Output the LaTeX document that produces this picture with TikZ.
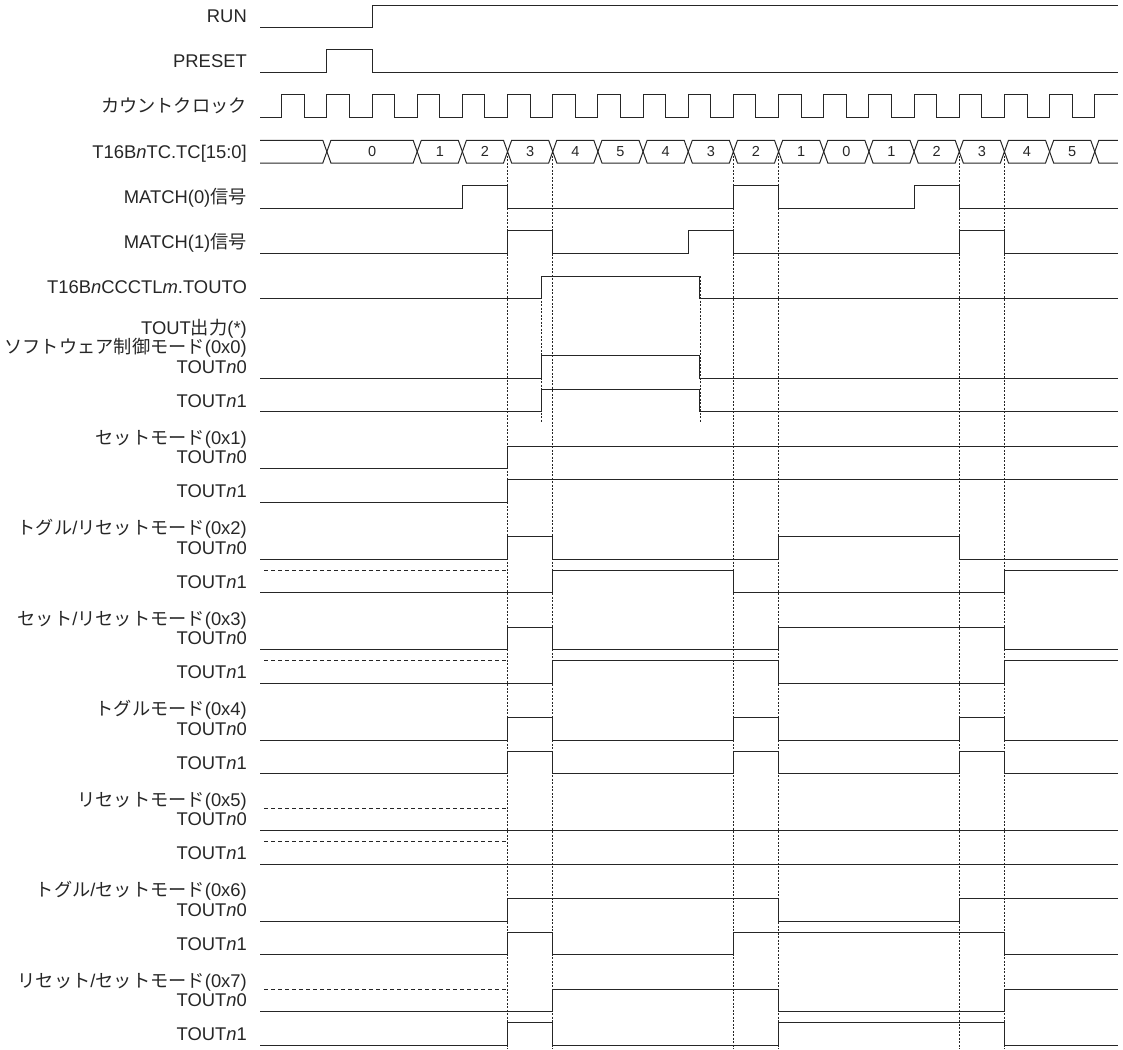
\documentclass[tikz,border=0pt]{standalone}
\usepackage{fontspec}
\setmainfont{Liberation Sans}
\newfontfamily\jp{Noto Sans CJK JP}[Scale=0.99]
\definecolor{ink}{HTML}{262626}
\newcommand\wlow[2]{\draw[sig] (-0.48,#1) \foreach \p/\q in {#2}{ -- (\p,#1) -- (\p,#1-22.5) -- (\q,#1-22.5) -- (\q,#1)} -- (18.51,#1);}
\newcommand\whigh[3]{\draw[sig] (-0.48,#1) \foreach \p/\q in {#2}{ -- (\p,#1) -- (\p,#1-22.5) -- (\q,#1-22.5) -- (\q,#1)} -- (#3,#1) -- (#3,#1-22.5) -- (18.51,#1-22.5);}
\newcommand\lab[3]{\node[lbl] (#1) at (247,#2) {#3};}
\begin{document}
\begin{tikzpicture}[x=1pt,y=-1pt,
  sig/.style={draw=ink,line width=1pt,line join=miter},
  gridline/.style={draw=ink,line width=0.7pt,dash pattern=on 2pt off 1.5pt},
  prevline/.style={draw=ink,line width=0.9pt,dash pattern=on 4pt off 3pt},
  lbl/.style={anchor=base east,inner sep=0pt,text=ink,font=\fontsize{18.4}{19.5}\selectfont},
  busval/.style={inner sep=0pt,text=ink,font=\fontsize{14.5}{16}\selectfont}]
\useasboundingbox (0,0) rectangle (1123,1049);

% ---- labels ----
\lab{lrun}{22.9}{RUN}
\lab{lpreset}{67.2}{PRESET}
\lab{lclk}{112.5}{{\jp カウントクロック}}
\lab{ltc}{158.2}{T16B\textit{n}TC.TC[15:0]}
\lab{lm0}{203.2}{MATCH(0){\jp 信号}}
\lab{lm1}{248.5}{MATCH(1){\jp 信号}}
\lab{ltouto}{293.9}{T16B\textit{n}CCCTL\textit{m}.TOUTO}

\lab{ltout}{334.25}{TOUT{\jp 出力}(*)}
\lab{hsw}{353.75}{{\jp ソフトウェア制御モード}(0x0)}
\lab{sw0}{373.25}{TOUT\textit{n}0}
\lab{sw1}{407.05}{TOUT\textit{n}1}

\lab{hset}{444.25}{{\jp セットモード}(0x1)}
\lab{set0}{463.75}{TOUT\textit{n}0}
\lab{set1}{497.55}{TOUT\textit{n}1}

\lab{htr}{534.75}{{\jp トグル}/{\jp リセットモード}(0x2)}
\lab{tr0}{554.25}{TOUT\textit{n}0}
\lab{tr1}{588.05}{TOUT\textit{n}1}

\lab{hsr}{625.25}{{\jp セット}/{\jp リセットモード}(0x3)}
\lab{sr0}{644.75}{TOUT\textit{n}0}
\lab{sr1}{678.55}{TOUT\textit{n}1}

\lab{htg}{715.75}{{\jp トグルモード}(0x4)}
\lab{tg0}{735.25}{TOUT\textit{n}0}
\lab{tg1}{769.05}{TOUT\textit{n}1}

\lab{hrs}{806.25}{{\jp リセットモード}(0x5)}
\lab{rs0}{825.75}{TOUT\textit{n}0}
\lab{rs1}{859.55}{TOUT\textit{n}1}

\lab{hts}{896.75}{{\jp トグル}/{\jp セットモード}(0x6)}
\lab{ts0}{916.25}{TOUT\textit{n}0}
\lab{ts1}{950.05}{TOUT\textit{n}1}

\lab{hrss}{987.25}{{\jp リセット}/{\jp セットモード}(0x7)}
\lab{rss0}{1006.75}{TOUT\textit{n}0}
\lab{rss1}{1040.55}{TOUT\textit{n}1}

% ---- waveforms ----
\begin{scope}[x=45.17pt,xshift=281.7pt]
  % grid lines
  \foreach \k in {5,6,10,11,15,16} \draw[gridline] (\k,152) -- (\k,1049);
  \draw[gridline] (5.755,276.2) -- (5.755,423);
  \draw[gridline] (9.26,276.2) -- (9.26,423);

  % RUN / PRESET
  \draw[sig] (-0.48,27.7) -- (2,27.7) -- (2,5.2) -- (18.51,5.2);
  \wlow{72}{1/2}
  % clock
  \draw[sig] (-0.48,117.3) \foreach \k in {0,...,17}{ -- (\k,117.3) -- (\k,94.8) -- (\k+0.5,94.8) -- (\k+0.5,117.3)} -- (18,117.3) -- (18,94.8) -- (18.51,94.8);
  % counter bus
  \draw[sig] (-0.48,140.3) -- (0.91,140.3) -- (1,151.65) -- (0.91,163) -- (-0.48,163);
  \foreach \p/\q/\v [count=\i] in {1/3/0,3/4/1,4/5/2,5/6/3,6/7/4,7/8/5,8/9/4,9/10/3,10/11/2,11/12/1,12/13/0,13/14/1,14/15/2,15/16/3,16/17/4,17/18/5}{
    \draw[sig] (\p,151.65) -- (\p+0.09,140.3) -- (\q-0.09,140.3) -- (\q,151.65) -- (\q-0.09,163) -- (\p+0.09,163) -- cycle;
    \node[busval] (val\i) at ({(\p+\q)/2},151.65) {\v};
  }
  \draw[sig] (18.51,140.3) -- (18.09,140.3) -- (18,151.65) -- (18.09,163) -- (18.51,163);

  % MATCH signals, TOUTO
  \wlow{208}{4/5,10/11,14/15}
  \wlow{253.3}{5/6,9/10,15/16}
  \wlow{298.6}{5.755/9.26}

  % software control (0x0)
  \wlow{378}{5.755/9.26}
  \wlow{411.8}{5.755/9.26}
  % set (0x1)
  \draw[sig] (-0.48,468.5) -- (5,468.5) -- (5,446) -- (18.51,446);
  \draw[sig] (-0.48,502.3) -- (5,502.3) -- (5,479.8) -- (18.51,479.8);
  % toggle/reset (0x2)
  \wlow{559}{5/6,11/15}
  \draw[prevline] (-0.39,570.3) -- (5,570.3);
  \whigh{592.8}{6/10}{16}
  % set/reset (0x3)
  \wlow{649.5}{5/6,11/16}
  \draw[prevline] (-0.39,660.8) -- (5,660.8);
  \whigh{683.3}{6/11}{16}
  % toggle (0x4)
  \wlow{740}{5/6,10/11,15/16}
  \wlow{773.8}{5/6,10/11,15/16}
  % reset (0x5)
  \draw[prevline] (-0.39,808) -- (5,808);
  \draw[sig] (-0.48,830.5) -- (18.51,830.5);
  \draw[prevline] (-0.39,841.8) -- (5,841.8);
  \draw[sig] (-0.48,864.3) -- (18.51,864.3);
  % toggle/set (0x6)
  \whigh{921}{5/11}{15}
  \wlow{954.8}{5/6,10/16}
  % reset/set (0x7)
  \draw[prevline] (-0.39,989) -- (5,989);
  \whigh{1011.5}{6/11}{16}
  \wlow{1045.3}{5/6,11/16}
\end{scope}
\end{tikzpicture}
\end{document}
